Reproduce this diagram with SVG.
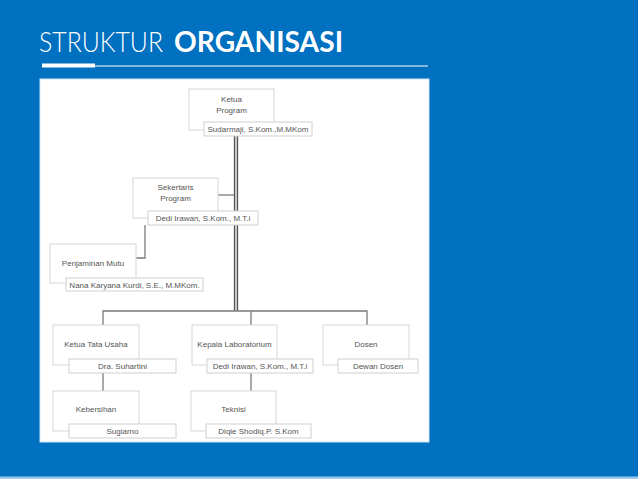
<svg xmlns="http://www.w3.org/2000/svg" width="638" height="479" viewBox="0 0 638 479">
<style>
.box{fill:#fff;stroke:#d6d6d6;stroke-width:1}
.nm{fill:#fff;stroke:#cfcfcf;stroke-width:1}
.t{font-family:"Liberation Sans",Arial,sans-serif;font-size:8px;fill:#555;text-anchor:middle}
.c{fill:none;stroke:#7a7a7a;stroke-width:1.3}
</style>
<rect x="0" y="0" width="638" height="479" fill="#0070c0"/>
<rect x="0" y="476.5" width="638" height="2.5" fill="#9cc9ee"/>
<g id="title">
<text x="39" y="52" font-family="Lato,'Open Sans','Liberation Sans',sans-serif" font-weight="300" font-size="28" fill="#fff" textLength="124" lengthAdjust="spacingAndGlyphs">STRUKTUR</text>
<text x="174" y="52" font-family="Lato,'Open Sans','Liberation Sans',sans-serif" font-weight="700" font-size="28" fill="#fff" textLength="169" lengthAdjust="spacingAndGlyphs">ORGANISASI</text>
<rect x="42" y="63.5" width="53" height="4" fill="#fff"/>
<rect x="95" y="65.5" width="333" height="1" fill="#fff"/>
</g>
<rect x="40" y="79" width="389" height="363" fill="#fff" stroke="#cde6f7" stroke-width="1"/>
<g id="connectors">
<line x1="234.5" y1="136" x2="234.5" y2="311" stroke="#555" stroke-width="1.3"/>
<line x1="237.5" y1="136" x2="237.5" y2="311" stroke="#555" stroke-width="1.3"/>
<line x1="236" y1="136" x2="236" y2="311" stroke="#bbb" stroke-width="1.5"/>
<polyline class="c" points="218,195 234,195"/>
<polyline class="c" points="145,225 145,258 136,258"/>
<polyline class="c" points="103,325 103,311 367,311 367,325"/>
<line class="c" x1="251" y1="311" x2="251" y2="325"/>
<line class="c" x1="103" y1="373" x2="103" y2="391"/>
<line class="c" x1="251" y1="373" x2="251" y2="391"/>
</g>
<g id="ketua-program">
<rect class="box" x="189" y="89" width="85" height="41"/>
<text class="t" x="231.5" y="102">Ketua</text>
<text class="t" x="231.5" y="113">Program</text>
<rect class="nm" x="204" y="122" width="108" height="14"/>
<text class="t" x="258" y="132">Sudarmaji, S.Kom.,M.MKom</text>
</g>
<g id="sekertaris-program">
<rect class="box" x="133" y="178" width="85" height="40"/>
<text class="t" x="175.5" y="190">Sekertaris</text>
<text class="t" x="175.5" y="201">Program</text>
<rect class="nm" x="148" y="211" width="110" height="14"/>
<text class="t" x="203" y="221">Dedi Irawan, S.Kom., M.T.i</text>
</g>
<g id="penjaminan-mutu">
<rect class="box" x="50" y="244" width="86" height="39"/>
<text class="t" x="93" y="266">Penjaminan Mutu</text>
<rect class="nm" x="66" y="278" width="137" height="13"/>
<text class="t" x="134.5" y="287.5">Nana Karyana Kurdi, S.E., M.MKom.</text>
</g>
<g id="ketua-tata-usaha">
<rect class="box" x="53" y="325" width="86" height="40"/>
<text class="t" x="96" y="347">Ketua Tata Usaha</text>
<rect class="nm" x="69" y="359" width="107" height="14"/>
<text class="t" x="122.5" y="369">Dra. Suhartini</text>
</g>
<g id="kebersihan">
<rect class="box" x="53" y="391" width="86" height="40"/>
<text class="t" x="96" y="412">Kebersihan</text>
<rect class="nm" x="69" y="424" width="107" height="14"/>
<text class="t" x="122.5" y="434">Sugiarno</text>
</g>
<g id="kepala-laboratorium">
<rect class="box" x="192" y="325" width="85" height="40"/>
<text class="t" x="234.5" y="347">Kepala Laboratorium</text>
<rect class="nm" x="207" y="359" width="106" height="14"/>
<text class="t" x="260" y="369">Dedi Irawan, S.Kom., M.T.i</text>
</g>
<g id="teknisi">
<rect class="box" x="191" y="391" width="85" height="40"/>
<text class="t" x="233.5" y="412">Teknisi</text>
<rect class="nm" x="206" y="424" width="105" height="14"/>
<text class="t" x="258.5" y="434">Diqie Shodiq.P. S.Kom</text>
</g>
<g id="dosen">
<rect class="box" x="323" y="325" width="86" height="40"/>
<text class="t" x="366" y="347">Dosen</text>
<rect class="nm" x="338" y="359" width="80" height="14"/>
<text class="t" x="378" y="369">Dewan Dosen</text>
</g>
</svg>
